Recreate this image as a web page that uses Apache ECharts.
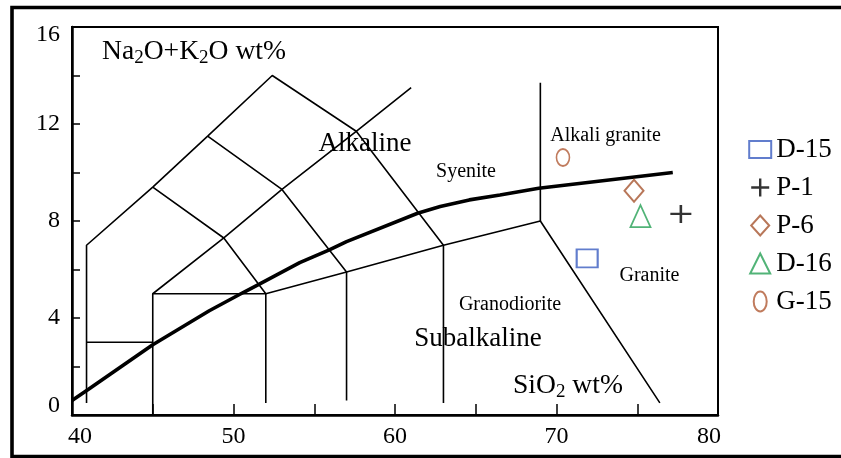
<!DOCTYPE html>
<html><head><meta charset="utf-8">
<script src="https://cdn.jsdelivr.net/npm/echarts@6/dist/echarts.min.js"></script>
<style>html,body{margin:0;padding:0;background:#fff}#c{width:841px;height:458px}</style>
</head><body><div id="c"></div>
<script>
// ---- data ----
const xTickLabels = [40, 50, 60, 70, 80];
const yTickLabels = [0, 4, 8, 12, 16];
const seriesNames = ['D-15', 'P-1', 'P-6', 'D-16', 'G-15'];
const sampleD15 = [[71.9, 6.46]];
const sampleP1 = [[77.7, 8.29]];
const sampleP6 = [[74.8, 9.25]];
const sampleD16 = [[75.2, 8.2]];
const sampleG15 = [[70.4, 10.62]];
// field boundaries (SiO2, Na2O+K2O)
const boundaryOuter = [[40.9, 0.5], [40.9, 7], [45, 9.4], [48.4, 11.5], [52.4, 14], [57.6, 11.7], [63, 7], [63, 0.5]];
const boundaryA = [[45, 9.4], [49.4, 7.3], [52, 5], [52, 0.5]];
const boundaryB = [[48.4, 11.5], [53, 9.3], [57, 5.9], [57, 0.6]];
const boundaryDiag = [[45, 0], [45, 5], [49.4, 7.3], [53, 9.3], [57.6, 11.7], [61, 13.5]];
const boundaryLow = [[40.9, 3], [45, 3]];
const boundaryBase = [[45, 5], [52, 5], [57, 5.9], [63, 7], [69, 8], [76.4, 0.5]];
const boundaryUp = [[69, 8], [69, 13.7]];
const alkalineDivide = [[40, 0.6], [41, 1.05], [45, 2.9], [48.5, 4.3], [50.6, 5.05], [51.6, 5.4], [54.1, 6.28], [55.9, 6.8], [57, 7.15], [61.4, 8.32], [62.8, 8.6], [64.6, 8.87], [66.5, 9.07], [68.9, 9.35], [77.2, 10.0]];
const fieldLabels = ['Alkaline', 'Syenite', 'Alkali granite', 'Granite', 'Granodiorite', 'Subalkaline'];

// ---- chart ----
const FF = 'Liberation Serif, Times New Roman, serif';
const chart = echarts.init(document.getElementById('c'), null, {renderer: 'canvas'});

const thin = (d) => ({type: 'line', data: d, symbol: 'none', showSymbol: false, silent: true,
  lineStyle: {color: '#000', width: 1.6}, z: 2, animation: false});

const scat = (name, data, symbol, size, color, bw) => ({
  type: 'scatter', name, data, symbol, symbolSize: size, z: 5, animation: false,
  itemStyle: {color: 'transparent', borderColor: color, borderWidth: bw}
});

const legendIcons = [
  'path://M0,0M22,20M0,1.5L22,1.5L22,18.5L0,18.5Z',
  'path://M0,0M22,20M2,10L20,10M11,1L11,19',
  'path://M0,0M22,20M11,0L20,10L11,20L2,10Z',
  'path://M0,0M22,20M11,0L21,20L1,20Z',
  'path://M0,0M22,20M4.5,10A6.5,10,0,1,1,17.5,10A6.5,10,0,1,1,4.5,10Z'
];
const legendWidths = [2, 2.4, 2, 2, 2];

const txt = (text, x, y, size) => ({type: 'text', x, y, silent: true, z: 10,
  style: {text, fontSize: size, fontFamily: FF, fill: '#000', align: 'center', textAlign: 'center',
    verticalAlign: 'top', textVerticalAlign: 'top'}});

const subRich = {
  n: {fontSize: 27.6, fontFamily: FF, color: '#000', verticalAlign: 'bottom', padding: [0, 0, 2, 0]},
  s: {fontSize: 19, fontFamily: FF, color: '#000', verticalAlign: 'bottom'}
};

chart.setOption({
  backgroundColor: '#fff',
  animation: false,
  grid: {left: 72, right: 123, top: 27, bottom: 43, show: true, borderColor: '#000', borderWidth: 2,
    containLabel: false, outerBoundsMode: 'none'},
  xAxis: {
    type: 'value', min: 40, max: 80, interval: 5,
    axisLine: {lineStyle: {color: '#000', width: 2.5}},
    axisTick: {inside: true, length: 11, lineStyle: {color: '#000', width: 1.5}},
    splitLine: {show: false},
    axisLabel: {
      margin: 10, color: '#000', fontSize: 24, fontFamily: FF,
      formatter: v => v === 40 ? '{f|40}' : v === 80 ? '{l|80}' : (xTickLabels.includes(v) ? String(v) : ''),
      rich: {f: {fontSize: 24, fontFamily: FF, color: '#000', padding: [0, 0, 0, 16]},
             l: {fontSize: 24, fontFamily: FF, color: '#000', padding: [0, 18, 0, 0]}}
    }
  },
  yAxis: {
    type: 'value', min: 0, max: 16, interval: 2,
    axisLine: {lineStyle: {color: '#000', width: 2.5}},
    axisTick: {inside: true, length: 8, lineStyle: {color: '#000', width: 1.5}},
    splitLine: {show: false},
    axisLabel: {
      margin: 12, color: '#000', fontSize: 24, fontFamily: FF,
      formatter: v => v === 16 ? '{t|16}' : v === 0 ? '{b|0}' : (yTickLabels.includes(v) ? String(v) : ''),
      rich: {t: {fontSize: 24, fontFamily: FF, color: '#000', padding: [16, 0, 0, 0]},
             b: {fontSize: 24, fontFamily: FF, color: '#000', padding: [0, 0, 18, 0]}}
    }
  },
  legend: {
    orient: 'vertical', left: 743, top: 131, itemWidth: 22, itemHeight: 20, itemGap: 11,
    textStyle: {fontSize: 27, fontFamily: FF, color: '#000'},
    itemStyle: {borderWidth: 2},
    data: seriesNames.map((n, i) => ({name: n, icon: legendIcons[i], itemStyle: {borderWidth: legendWidths[i]}}))
  },
  series: [
    thin(boundaryOuter), thin(boundaryA), thin(boundaryB), thin(boundaryDiag),
    thin(boundaryLow), thin(boundaryBase), thin(boundaryUp),
    {type: 'line', data: alkalineDivide, symbol: 'none', showSymbol: false, silent: true,
      lineStyle: {color: '#000', width: 3.6}, z: 3, animation: false},
    scat(seriesNames[0], sampleD15, 'rect', [21, 18], '#3a5cc0', 2),
    scat(seriesNames[1], sampleP1, 'path://M0,10L20,10M10,0L10,20', [21, 18], '#000', 2.4),
    scat(seriesNames[2], sampleP6, 'diamond', [19, 22], '#a65530', 2),
    scat(seriesNames[3], sampleD16, 'triangle', [20, 22], '#25a055', 1.8),
    scat(seriesNames[4], sampleG15, 'path://M0,10A7,10,0,1,1,14,10A7,10,0,1,1,0,10Z', [13, 17], '#b05a35', 1.8)
  ],
  graphic: [
    {type: 'rect', silent: true, z: 20, shape: {x: 12, y: 7.5, width: 845, height: 449},
      style: {fill: 'none', stroke: '#000', lineWidth: 3.6}},
    {type: 'text', x: 102, y: 38, silent: true, z: 10,
      style: {text: '{n|Na}{s|2}{n|O+K}{s|2}{n|O wt%}', rich: subRich, fill: '#000',
        align: 'left', textAlign: 'left', verticalAlign: 'top', textVerticalAlign: 'top'}},
    {type: 'text', x: 513, y: 372, silent: true, z: 10,
      style: {text: '{n|SiO}{s|2}{n| wt%}', rich: subRich, fill: '#000',
        align: 'left', textAlign: 'left', verticalAlign: 'top', textVerticalAlign: 'top'}},
    txt(fieldLabels[0], 365, 130.4, 27),
    txt(fieldLabels[1], 466, 162, 20),
    txt(fieldLabels[2], 605.5, 126, 20),
    txt(fieldLabels[3], 649.5, 266, 20),
    txt(fieldLabels[4], 510, 295, 20),
    txt(fieldLabels[5], 478, 325.4, 27)
  ]
});
</script></body></html>
